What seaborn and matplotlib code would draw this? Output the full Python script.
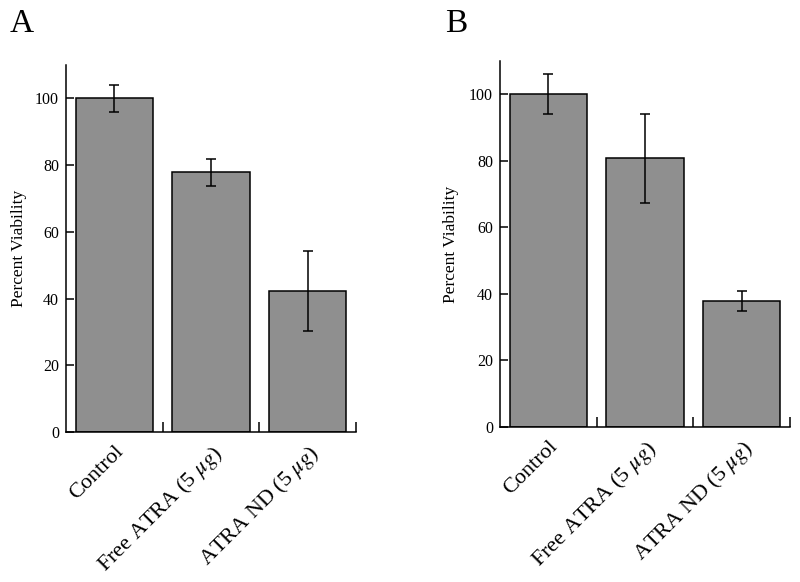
import matplotlib
matplotlib.use("Agg")
import matplotlib.pyplot as plt
from matplotlib import font_manager
import seaborn as sns
import pandas as pd

# Donnees
groupes = ["Control", r"Free ATRA (5 $\mu g$)", r"ATRA ND (5 $\mu g$)"]
viab_a = [100, 77.8, 42.2]
err_a = [4, 4, 12]
viab_b = [100, 80.7, 37.8]
err_b = [6, 13.5, 3]
panneaux = ["A", "B"]

sns.set_style("white")

# police type Times : on cherche Liberation Serif parmi les polices installees
noms = sorted({f.name for f in font_manager.fontManager.ttflist})
serif = next((n for n in noms if "Liberation Serif" in n), None)
if serif is None:
    serif = next((n for n in noms if "Times" in n or "Tinos" in n), "DejaVu Serif")
plt.rcParams["font.family"] = [serif, "DejaVu Serif"]
plt.rcParams["mathtext.fontset"] = "stix"
plt.rcParams["text.color"] = "black"
plt.rcParams["axes.labelcolor"] = "black"
plt.rcParams["xtick.color"] = "black"
plt.rcParams["ytick.color"] = "black"

fig = plt.figure(figsize=(8, 5.82), dpi=100)
ax_a = fig.add_axes([0.0825, 0.2577, 0.3625, 0.6306])
ax_b = fig.add_axes([0.625, 0.2663, 0.3625, 0.6289])

for ax, vals, errs in [(ax_a, viab_a, err_a), (ax_b, viab_b, err_b)]:
    df = pd.DataFrame({"groupe": groupes, "viab": vals})
    sns.barplot(data=df, x="groupe", y="viab", color="#8f8f8f", saturation=1,
                edgecolor="black", linewidth=1.1, width=0.8, errorbar=None, ax=ax)
    ax.errorbar(range(len(vals)), vals, yerr=errs, fmt="none", ecolor="black",
                elinewidth=1.1, capsize=3.5, capthick=1.1)
    ax.set_xlim(-0.5, 2.5)
    ax.set_ylim(0, 110)
    ax.set_yticks([0, 20, 40, 60, 80, 100])
    ax.set_xlabel("")
    ax.set_ylabel("Percent Viability", fontsize=12.5)
    ax.set_xticks([0, 1, 2])
    ax.set_xticklabels(groupes, rotation=45, ha="right", rotation_mode="anchor", fontsize=16)
    ax.set_xticks([0.5, 1.5, 2.5], minor=True)
    ax.tick_params(axis="x", which="major", length=0, pad=7)
    ax.tick_params(axis="x", which="minor", bottom=True, direction="in", length=7, width=1.1)
    ax.tick_params(axis="y", left=True, direction="in", length=6, width=1.1, labelsize=11.5, pad=5)
    sns.despine(ax=ax)
    for s in ["left", "bottom"]:
        ax.spines[s].set_color("black")
        ax.spines[s].set_linewidth(1.1)

ax_a.yaxis.set_label_coords(-0.135, 0.5)
ax_b.yaxis.set_label_coords(-0.14, 0.5)

fig.text(0.012, 0.945, "A", fontsize=24)
fig.text(0.556, 0.945, "B", fontsize=24)

fig.savefig("out.png", dpi=100)
